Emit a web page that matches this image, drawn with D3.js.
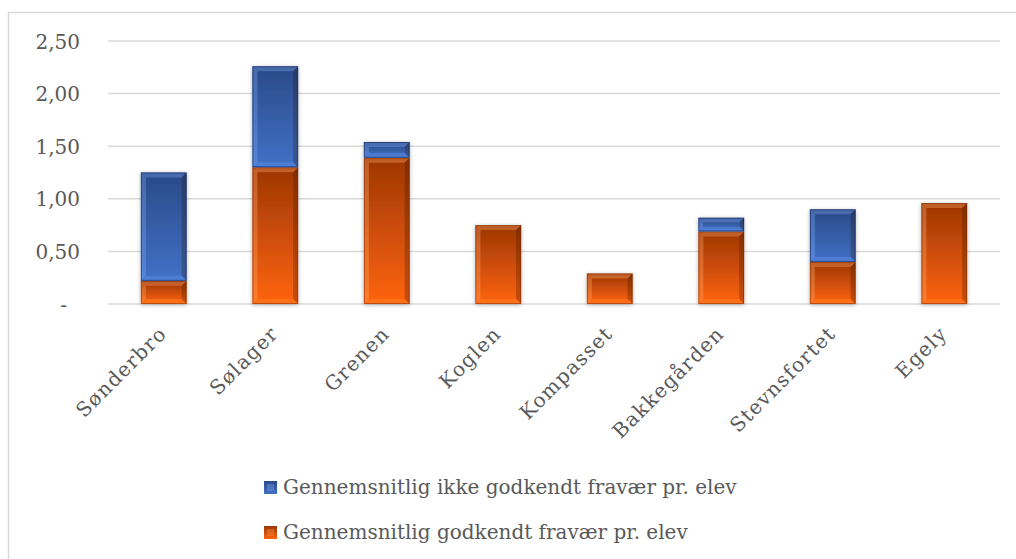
<!DOCTYPE html>
<html><head><meta charset="utf-8">
<script src="https://cdn.jsdelivr.net/npm/d3@7/dist/d3.min.js"></script>
<style>body{margin:0;background:#fff}svg{display:block}</style>
</head><body>
<svg id="c" width="1016" height="559"></svg>
<script>
const categories = ["Sønderbro","Sølager","Grenen","Koglen","Kompasset","Bakkegården","Stevnsfortet","Egely"];
const godkendt = [0.22,1.30,1.39,0.75,0.29,0.69,0.40,0.96];
const ikkeGodkendt = [1.03,0.96,0.15,0,0,0.13,0.50,0];
const yTicks = [0,0.5,1,1.5,2,2.5];
const seriesNames = ["Gennemsnitlig ikke godkendt fravær pr. elev","Gennemsnitlig godkendt fravær pr. elev"];

const svg = d3.select("#c");
const font = "'DejaVu Serif', serif";
const textCol = "#595959";
const m={left:108,right:1000,top:41,bottom:304};

svg.append("rect").attr("x",8.5).attr("y",12.5).attr("width",1020).attr("height",600)
  .attr("fill","#fff").attr("stroke","#d9d9d9").attr("stroke-width",1.5);

const x = d3.scaleBand().domain(categories).range([m.left,m.right]).paddingInner(0.59).paddingOuter(0.295);
const y = d3.scaleLinear().domain([0,2.5]).range([m.bottom,m.top]);

const defs = svg.append("defs");
function grad(id, top, bot){
  const g = defs.append("linearGradient").attr("id",id).attr("x1",0).attr("y1",0).attr("x2",0).attr("y2",1);
  g.append("stop").attr("offset","0%").attr("stop-color",top);
  g.append("stop").attr("offset","100%").attr("stop-color",bot);
}
grad("gO","#9c3604","#ff640d");
grad("gB","#2a4a88","#4171c6");
const f = defs.append("filter").attr("id","sh").attr("x","-20%").attr("y","-20%").attr("width","140%").attr("height","140%");
f.append("feGaussianBlur").attr("in","SourceAlpha").attr("stdDeviation",2);
f.append("feOffset").attr("dx",0).attr("dy",1).attr("result","b");
f.append("feComponentTransfer").append("feFuncA").attr("type","linear").attr("slope",0.3);
const fm=f.append("feMerge"); fm.append("feMergeNode"); fm.append("feMergeNode").attr("in","SourceGraphic");

// grid
svg.append("g").selectAll("line").data(yTicks).join("line")
  .attr("x1",m.left).attr("x2",m.right).attr("y1",d=>y(d)).attr("y2",d=>y(d))
  .attr("stroke","#d9d9d9").attr("stroke-width",1.5);

// y axis labels
const yAxis = d3.axisLeft(y).tickValues(yTicks).tickSize(0).tickPadding(0)
  .tickFormat(d=> d===0 ? "-" : d3.format(".2f")(d).replace(".",","));
const ya = svg.append("g").attr("transform",`translate(80,0)`).call(yAxis);
ya.select(".domain").remove();
ya.selectAll("text").attr("font-family",font).attr("font-size",20).attr("fill",textCol)
  .attr("dy","0.35em").attr("dx",d=>d===0?-13:0);

// x labels
const xa = svg.append("g");
xa.selectAll("text").data(categories).join("text")
  .attr("transform",d=>`translate(${x(d)+x.bandwidth()/2+4},${m.bottom+31}) rotate(-45)`)
  .attr("text-anchor","end").attr("font-family",font).attr("font-size",20).attr("fill",textCol)
  .attr("letter-spacing",1.2)
  .text(d=>d);

function bevelBar(g, x0, y0, w, h, kind){
  if(h<=0) return;
  const b = Math.min(5, h/3);
  const gg = g.append("g");
  gg.append("rect").attr("x",x0).attr("y",y0).attr("width",w).attr("height",h).attr("fill",`url(#${kind==="o"?"gO":"gB"})`);
  const light = kind==="o" ? "rgba(255,170,110,0.35)" : "rgba(140,180,255,0.30)";
  const dark = "rgba(40,15,0,0.25)";
  const x1=x0+w,y1=y0+h;
  gg.append("path").attr("d",`M${x0},${y0}L${x1},${y0}L${x1-b},${y0+b}L${x0+b},${y0+b}Z`).attr("fill",light);
  gg.append("path").attr("d",`M${x0},${y0}L${x0+b},${y0+b}L${x0+b},${y1-b}L${x0},${y1}Z`).attr("fill",light);
  gg.append("path").attr("d",`M${x1},${y0}L${x1},${y1}L${x1-b},${y1-b}L${x1-b},${y0+b}Z`).attr("fill",dark);
  gg.append("path").attr("d",`M${x0},${y1}L${x0+b},${y1-b}L${x1-b},${y1-b}L${x1},${y1}Z`).attr("fill",kind==="o"?"rgba(255,120,30,0.6)":"rgba(90,140,230,0.5)");
  gg.append("rect").attr("x",x0+0.5).attr("y",y0+0.5).attr("width",w-1).attr("height",h-1).attr("fill","none")
    .attr("stroke",kind==="o"?"rgba(120,40,0,0.5)":"rgba(20,40,90,0.6)").attr("stroke-width",1);
}

const bars = svg.append("g").attr("filter","url(#sh)");
categories.forEach((c,i)=>{
  const x0 = x(c), w = x.bandwidth();
  const g = bars.append("g");
  bevelBar(g, x0, y(godkendt[i]), w, y(0)-y(godkendt[i]), "o");
  const top = godkendt[i]+ikkeGodkendt[i];
  bevelBar(g, x0, y(top), w, y(godkendt[i])-y(top), "b");
});

// legend
const lg = svg.append("g");
const items=[{n:seriesNames[0],k:"b",y:487},{n:seriesNames[1],k:"o",y:532}];
items.forEach(it=>{
  const g=lg.append("g");
  g.append("rect").attr("x",264).attr("y",it.y-6).attr("width",13).attr("height",13)
    .attr("fill",`url(#${it.k==="o"?"gO":"gB"})`);
  g.append("rect").attr("x",267).attr("y",it.y-3).attr("width",7).attr("height",7)
    .attr("fill",it.k==="o"?"rgba(255,150,80,0.35)":"rgba(140,180,255,0.3)");
  g.append("text").attr("x",283).attr("y",it.y).attr("dy","0.35em").attr("font-family",font)
    .attr("font-size",20).attr("fill",textCol).text(it.n);
});
</script>
</body></html>
